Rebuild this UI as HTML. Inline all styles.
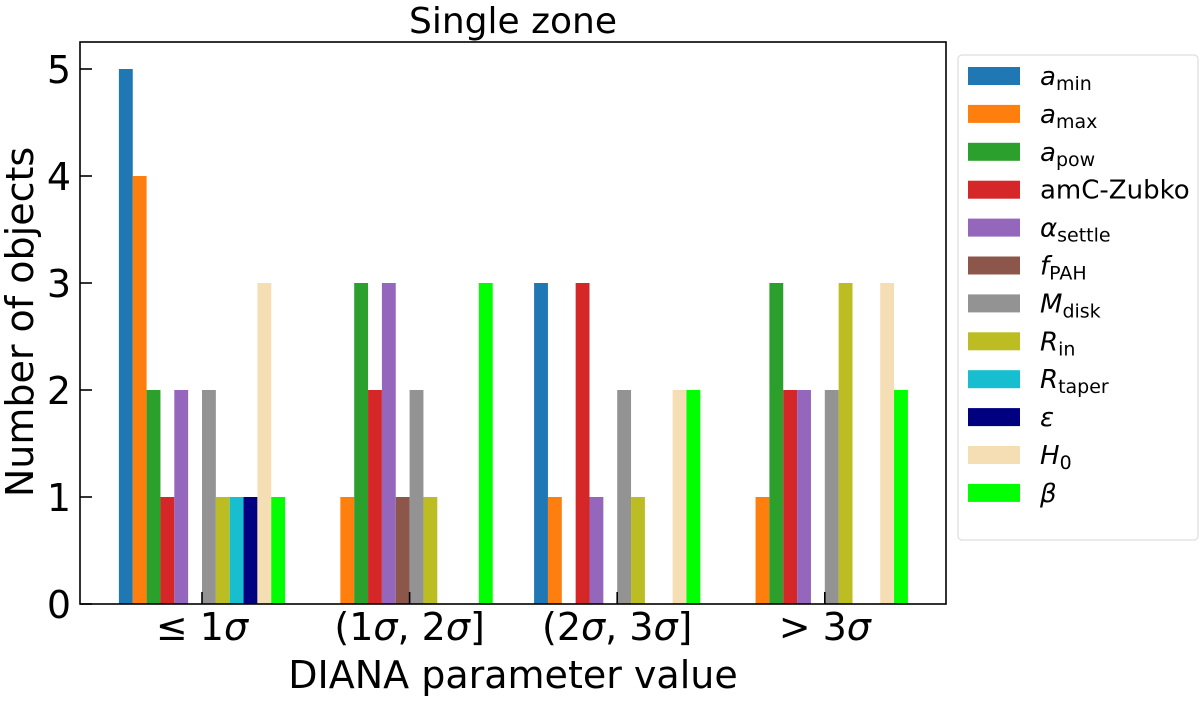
<!DOCTYPE html>
<html><head><meta charset="utf-8"><style>
body{margin:0;background:#fff;}
svg text{font-family:"DejaVu Sans","Liberation Sans",sans-serif;fill:#000;}
</style></head><body>
<svg width="1200" height="697" xmlns="http://www.w3.org/2000/svg">
<g id="bars"></g>
<g id="axes"></g>
<text x="513" y="33" font-size="36" text-anchor="middle">Single zone</text>
<text x="513" y="688" font-size="38" text-anchor="middle">DIANA parameter value</text>
<text transform="translate(33,322) rotate(-90)" font-size="38" text-anchor="middle">Number of objects</text>
<g id="legend"></g>
</svg>
<script>
const categories = [["≤ 1","σ",""], ["(1","σ",", 2σ]"], ["(2","σ",", 3σ]"], ["> 3","σ",""]];
const series = ["amin","amax","apow","amC-Zubko","alpha","fPAH","Mdisk","Rin","Rtaper","eps","H0","beta"];
const colors = ["#1f77b4","#ff7f0e","#2ca02c","#d62728","#9467bd","#8c564b","#939393","#bcbd22","#17becf","#000080","#f5deb3","#00ff00"];
const amin=[5,0,3,0], amax=[4,1,1,1], apow=[2,3,0,3], amc=[1,2,3,2], alpha=[2,3,1,2], fpah=[0,1,0,0],
mdisk=[2,2,2,2], rin=[1,1,1,3], rtaper=[1,0,0,0], eps=[1,0,0,0], h0=[3,0,2,3], beta=[1,3,2,2];
const values=[amin,amax,apow,amc,alpha,fpah,mdisk,rin,rtaper,eps,h0,beta];
const yTicks=[0,1,2,3,4,5];
const NS="http://www.w3.org/2000/svg";
const L=80,R=946,T=42,B=604;
const xs=i=>202+i*207.6;
const ys=v=>B-v*107;
const bw=13.85;
function mk(t,a,p){const e=document.createElementNS(NS,t);for(const k in a)e.setAttribute(k,a[k]);p.appendChild(e);return e;}
const bars=document.getElementById('bars');
values.forEach((arr,s)=>arr.forEach((v,i)=>{
 if(v<=0)return;
 const r=mk('rect',{x:xs(i)-6*bw+s*bw,y:ys(v),width:bw,height:ys(0)-ys(v),fill:colors[s]},bars);
 
 
}));
const ax=document.getElementById('axes');
mk('rect',{x:L,y:T,width:R-L,height:B-T,fill:'none',stroke:'#000','stroke-width':1.6},ax);
yTicks.forEach(v=>{
 mk('line',{x1:L,x2:L+12,y1:ys(v),y2:ys(v),stroke:'#000','stroke-width':1.6},ax);
 const t=mk('text',{x:L-9,y:ys(v)+14,'font-size':38,'text-anchor':'end'},ax);t.textContent=v;
 
 
});
categories.forEach((c,i)=>{
 mk('line',{x1:xs(i),x2:xs(i),y1:B,y2:B-12,stroke:'#000','stroke-width':1.6},ax);
 const t=mk('text',{x:xs(i),y:640,'font-size':38,'text-anchor':'middle'},ax);
 
 
 const a=mk('tspan',{},t);a.textContent=c[0];
 const b=mk('tspan',{'font-style':'italic'},t);b.textContent=c[1];
 if(c[2]){const p=c[2].split('σ');const d=mk('tspan',{},t);d.textContent=p[0];const e=mk('tspan',{'font-style':'italic'},t);e.textContent='σ';const f=mk('tspan',{},t);f.textContent=p[1];}
});
const lg=document.getElementById('legend');
mk('rect',{x:958,y:55,width:240,height:485,rx:4,fill:'#fff',stroke:'#ddd','stroke-width':1.2},lg);
const labels=[["a","min",1],["a","max",1],["a","pow",1],["amC-Zubko","",0],["α","settle",1],["f","PAH",1],["M","disk",1],["R","in",1],["R","taper",1],["ε","",1],["H","0",1],["β","",1]];
labels.forEach((l,i)=>{
 const y=76+i*37.9;
 mk('rect',{x:968,y:y-9,width:52,height:18,fill:colors[i]},lg);
 const t=mk('text',{x:1040,y:y+9,'font-size':26},lg);
 
 
 const m=mk('tspan',{'font-style':l[2]?'italic':'normal'},t);m.textContent=l[0];
 if(l[1]){const s=mk('tspan',{'font-size':19,dy:5},t);s.textContent=l[1];}
});
</script>
</body></html>
